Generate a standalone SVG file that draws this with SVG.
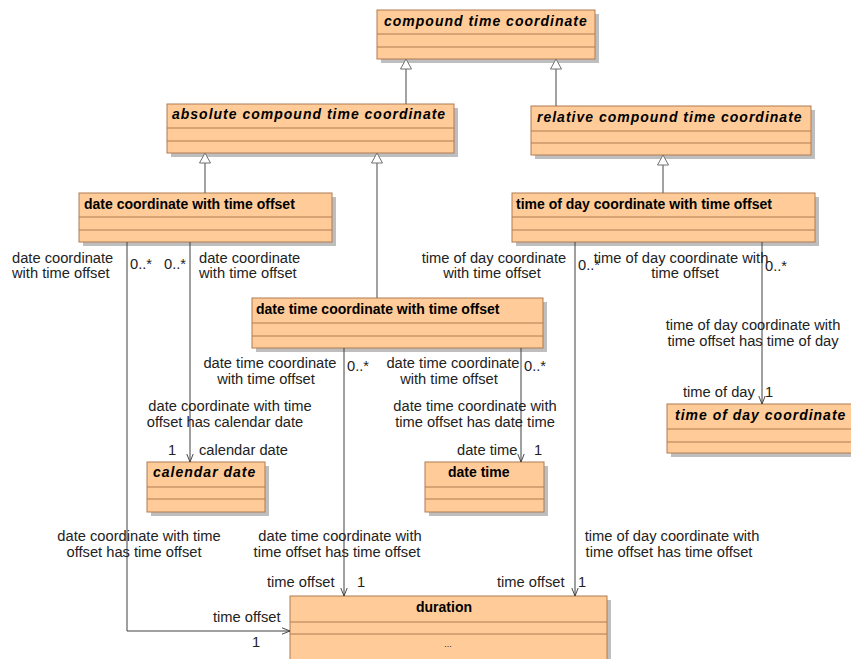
<svg xmlns="http://www.w3.org/2000/svg" width="851" height="659" viewBox="0 0 851 659">
<defs>
<style>
.sh{fill:#BEBEBE}
.bx{fill:#FFCC99;stroke:#B07A50;stroke-width:1}
.dv{stroke:#B07A50;stroke-width:1}
.tt{font-family:"Liberation Sans",Arial,sans-serif;font-size:14px;font-weight:bold;fill:#000}
.it{font-style:italic;letter-spacing:1px}
.lb{font-family:"Liberation Sans",Arial,sans-serif;font-size:14.7px;fill:#222}
.c{text-anchor:middle}
.as{fill:none;stroke:#404040;stroke-width:1}
.ge{fill:none;stroke:#707070;stroke-width:1.3}
.tri{fill:#fff;stroke:#707070;stroke-width:1}
</style>
<marker id="open" viewBox="0 0 10 10" refX="10" refY="5" markerWidth="8" markerHeight="8" markerUnits="userSpaceOnUse" orient="auto">
<path d="M0,1 L10,5 L0,9" fill="none" stroke="#404040" stroke-width="1.2"/>
</marker>
</defs>
<rect width="851" height="659" fill="#fff"/>

<g id="compound_time_coordinate">
<rect class="sh" x="381" y="14" width="218" height="49"/>
<rect class="bx" x="377" y="10" width="218" height="49"/>
<line class="dv" x1="377" y1="34" x2="595" y2="34"/><line class="dv" x1="377" y1="47" x2="595" y2="47"/>
<text class="tt it" x="384" y="26">compound time coordinate</text>
</g>

<g id="absolute_compound_time_coordinate">
<rect class="sh" x="171" y="108" width="287" height="49"/>
<rect class="bx" x="167" y="104" width="287" height="49"/>
<line class="dv" x1="167" y1="128" x2="454" y2="128"/><line class="dv" x1="167" y1="141" x2="454" y2="141"/>
<text class="tt it" x="172" y="119">absolute compound time coordinate</text>
</g>

<g id="relative_compound_time_coordinate">
<rect class="sh" x="535" y="110" width="280" height="49"/>
<rect class="bx" x="531" y="106" width="280" height="49"/>
<line class="dv" x1="531" y1="131" x2="811" y2="131"/><line class="dv" x1="531" y1="143" x2="811" y2="143"/>
<text class="tt it" x="537" y="122">relative compound time coordinate</text>
</g>

<g id="date_coordinate_with_time_offset">
<rect class="sh" x="83" y="197" width="253" height="49"/>
<rect class="bx" x="79" y="193" width="253" height="49"/>
<line class="dv" x1="79" y1="217" x2="332" y2="217"/><line class="dv" x1="79" y1="230" x2="332" y2="230"/>
<text class="tt" x="84" y="209">date coordinate with time offset</text>
</g>

<g id="time_of_day_coordinate_with_time_offset">
<rect class="sh" x="516" y="197" width="303" height="49"/>
<rect class="bx" x="512" y="193" width="303" height="49"/>
<line class="dv" x1="512" y1="217" x2="815" y2="217"/><line class="dv" x1="512" y1="230" x2="815" y2="230"/>
<text class="tt" x="516" y="209">time of day coordinate with time offset</text>
</g>

<g id="date_time_coordinate_with_time_offset">
<rect class="sh" x="256" y="302" width="291" height="50"/>
<rect class="bx" x="252" y="298" width="291" height="50"/>
<line class="dv" x1="252" y1="323" x2="543" y2="323"/><line class="dv" x1="252" y1="336" x2="543" y2="336"/>
<text class="tt" x="256" y="314">date time coordinate with time offset</text>
</g>

<g id="calendar_date">
<rect class="sh" x="151" y="466" width="118" height="50"/>
<rect class="bx" x="147" y="462" width="118" height="50"/>
<line class="dv" x1="147" y1="487" x2="265" y2="487"/><line class="dv" x1="147" y1="499" x2="265" y2="499"/>
<text class="tt it" x="153" y="477">calendar date</text>
</g>

<g id="date_time">
<rect class="sh" x="429" y="466" width="119" height="50"/>
<rect class="bx" x="425" y="462" width="119" height="50"/>
<line class="dv" x1="425" y1="487" x2="544" y2="487"/><line class="dv" x1="425" y1="499" x2="544" y2="499"/>
<text class="tt" x="448" y="477">date time</text>
</g>

<g id="time_of_day_coordinate">
<rect class="sh" x="671" y="408" width="195" height="49"/>
<rect class="bx" x="667" y="404" width="195" height="49"/>
<line class="dv" x1="667" y1="429" x2="862" y2="429"/><line class="dv" x1="667" y1="442" x2="862" y2="442"/>
<text class="tt it" x="675" y="420">time of day coordinate</text>
</g>

<g id="duration">
<rect class="sh" x="294" y="600" width="317" height="70"/>
<rect class="bx" x="290" y="596" width="317" height="70"/>
<line class="dv" x1="290" y1="622" x2="607" y2="622"/><line class="dv" x1="290" y1="634" x2="607" y2="634"/>
<text class="tt c" x="444" y="612">duration</text>
<text class="lb c" x="448" y="647" style="font-size:9px">...</text>
</g>

<g id="connectors">
<path class="ge" d="M406,104 V69"/><path class="tri" d="M406,59 L400.5,69 L411.5,69 Z"/>
<path class="ge" d="M556,106 V69"/><path class="tri" d="M556,59 L550.5,69 L561.5,69 Z"/>
<path class="ge" d="M205,193 V163"/><path class="tri" d="M205,153 L199.5,163 L210.5,163 Z"/>
<path class="ge" d="M377,298 V163"/><path class="tri" d="M377,153 L371.5,163 L382.5,163 Z"/>
<path class="ge" d="M663,193 V165"/><path class="tri" d="M663,155 L657.5,165 L668.5,165 Z"/>

<path class="as" d="M127,242 V631 H290" marker-end="url(#open)"/>
<path class="as" d="M190,242 V462" marker-end="url(#open)"/>
<path class="as" d="M344,348 V596" marker-end="url(#open)"/>
<path class="as" d="M521,348 V462" marker-end="url(#open)"/>
<path class="as" d="M575,242 V596" marker-end="url(#open)"/>
<path class="as" d="M762,242 V404" marker-end="url(#open)"/>

<g class="lb">
<text x="12" y="263">date coordinate</text>
<text x="12" y="278">with time offset</text>
<text x="130" y="269">0..*</text>
<text x="164" y="269">0..*</text>
<text x="199" y="263">date coordinate</text>
<text x="199" y="278">with time offset</text>
<text class="c" x="139" y="541">date coordinate with time</text>
<text class="c" x="134" y="557">offset has time offset</text>
<text x="213" y="622">time offset</text>
<text x="252" y="647">1</text>

<text class="c" x="230" y="411">date coordinate with time</text>
<text class="c" x="225" y="427">offset has calendar date</text>
<text x="168" y="455">1</text>
<text x="199" y="455">calendar date</text>

<text class="c" x="270" y="368">date time coordinate</text>
<text class="c" x="266" y="384">with time offset</text>
<text x="347" y="371">0..*</text>
<text class="c" x="340" y="541">date time coordinate with</text>
<text class="c" x="337" y="557">time offset has time offset</text>
<text x="267" y="587">time offset</text>
<text x="357" y="587">1</text>

<text class="c" x="453" y="368">date time coordinate</text>
<text class="c" x="449" y="384">with time offset</text>
<text x="524" y="371">0..*</text>
<text class="c" x="475" y="411">date time coordinate with</text>
<text class="c" x="475" y="427">time offset has date time</text>
<text x="457" y="455">date time</text>
<text x="534" y="455">1</text>

<text class="c" x="494" y="263">time of day coordinate</text>
<text class="c" x="492" y="278">with time offset</text>
<text x="578" y="270">0..*</text>
<text class="c" x="672" y="541">time of day coordinate with</text>
<text class="c" x="669" y="557">time offset has time offset</text>
<text x="497" y="587">time offset</text>
<text x="578" y="587">1</text>

<text class="c" x="681" y="263">time of day coordinate with</text>
<text class="c" x="685" y="278">time offset</text>
<text x="765" y="271">0..*</text>
<text class="c" x="753" y="330">time of day coordinate with</text>
<text class="c" x="753" y="346">time offset has time of day</text>
<text x="683" y="397">time of day</text>
<text x="765" y="397">1</text>
</g>
</g>
</svg>
